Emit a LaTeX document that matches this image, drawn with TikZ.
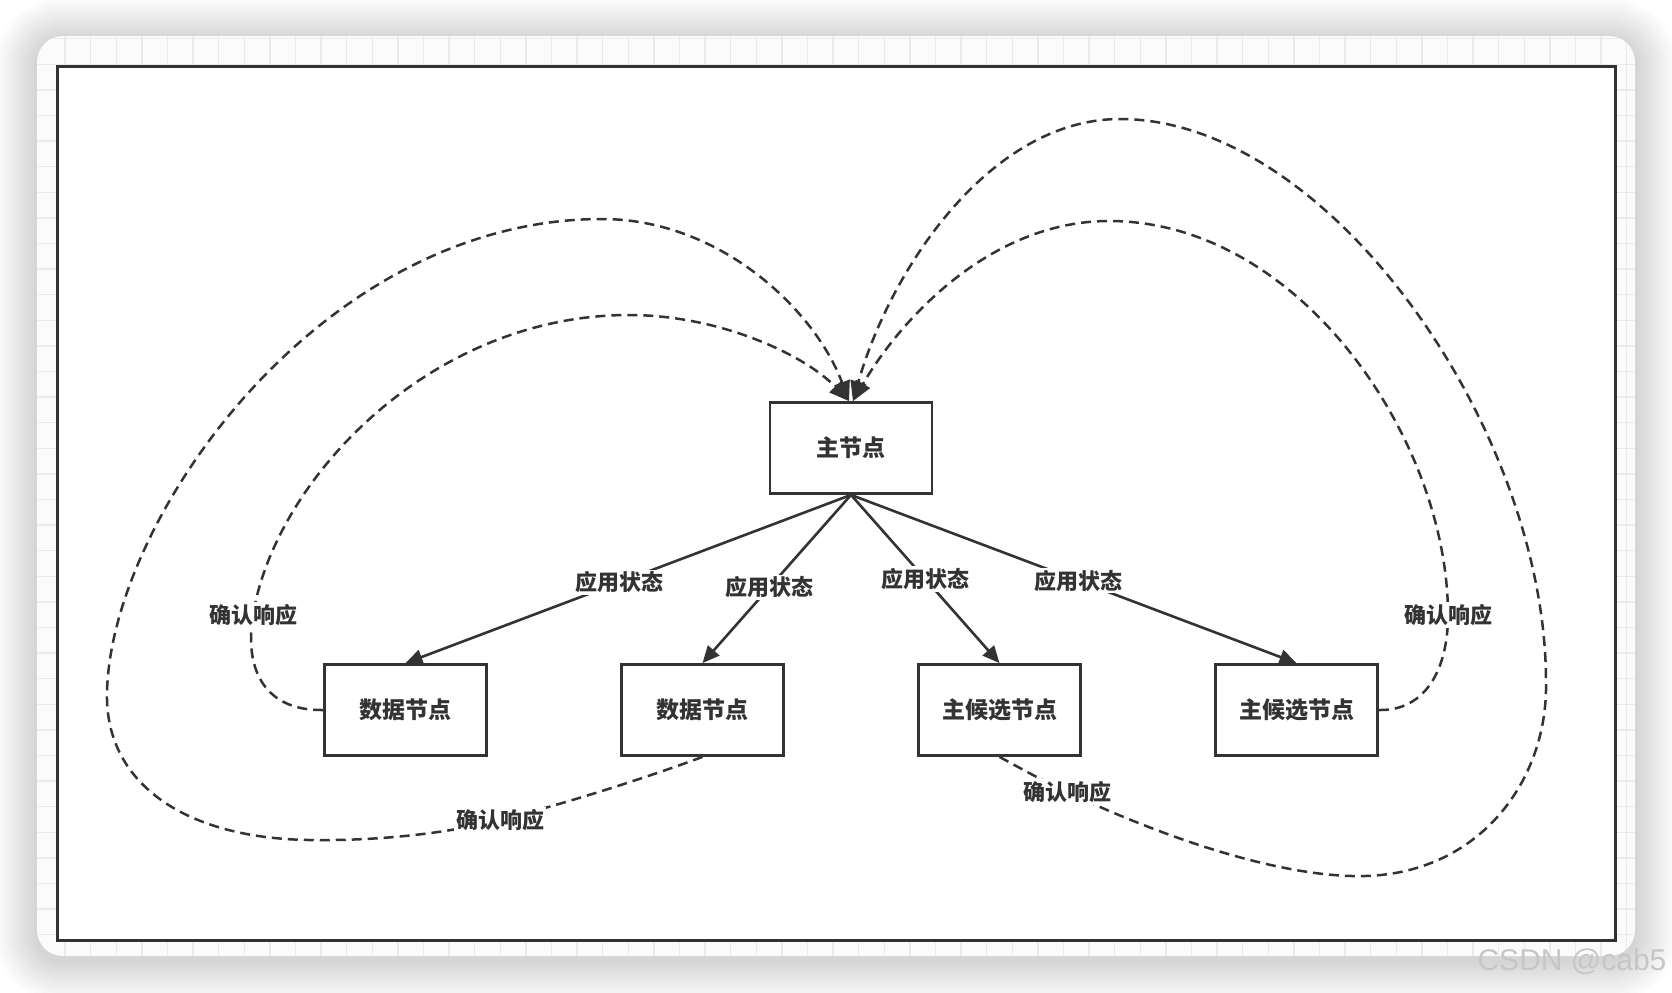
\documentclass[tikz,border=0pt]{standalone}
\usepackage{fontspec}
\setmainfont{Noto Sans CJK SC}
\newfontfamily\markfont{Liberation Sans}
\usetikzlibrary{arrows.meta}
\definecolor{ink}{HTML}{333333}
\definecolor{framec}{HTML}{2E3338}
\definecolor{gridc}{HTML}{EBEBEB}
\definecolor{cardc}{HTML}{FBFBFB}
\tikzset{
  member/.style = {shape=rectangle, draw=ink, line width=1.4pt,
                   fill=white, text=ink, align=center, inner sep=0pt,
                   minimum width=81pt, minimum height=45.5pt,
                   font=\bfseries\fontsize{11.5}{13}\selectfont},
  master/.style = {member},
  lbl/.style    = {fill=white, text=ink, inner sep=1pt,
                   font=\bfseries\fontsize{11}{12}\selectfont},
  ack/.style    = {draw=ink, line width=1.25pt, dash pattern=on 5pt off 3pt,
                   -{Triangle[length=10pt,width=8pt]}}
}

\begin{document}
\begin{tikzpicture}
  [
  x = 0.5pt, y = -0.5pt,
  grow = down,
  level distance = 131pt,
  sibling distance = 148.5pt,
  edge from parent/.style = {draw=ink, line width=1.3pt,
                             -{Triangle[length=8.5pt,width=7.5pt]}},
  edge from parent path = {(\tikzparentnode.south) -- (\tikzchildnode.north)}
  ]
  \useasboundingbox (0,0) rectangle (1672,992);

  % card with grid
  \fill[white] (0,0) rectangle (1672,992);
  \foreach \i in {1,...,14}
    \fill[black, opacity=0.011, rounded corners=13pt+1.5pt*\i]
      (37-3*\i,40-3*\i) rectangle (1635+3*\i,960+3*\i);
  \fill[cardc, rounded corners=13pt] (37,36) rectangle (1635,956);
  \begin{scope}
    \clip[rounded corners=13pt] (37,36) rectangle (1635,956);
    \foreach \gx in {65,90.6,...,1640}
      \draw[gridc, line width=0.7pt] (\gx,36) -- (\gx,956);
    \foreach \gy in {38.6,64.2,...,960}
      \draw[gridc, line width=0.7pt] (37,\gy) -- (1635,\gy);
  \end{scope}
  \draw[framec, line width=1.5pt, fill=white] (57,66) rectangle (1615,940);

  \node[master] (main) at (851,448) {主节点}
    child{node[member] (d1) {数据节点}
      edge from parent node[lbl, pos=0.52] {应用状态} }
    child{node[member] (d2) {数据节点}
      edge from parent node[lbl, pos=0.55] {应用状态} }
    child{node[member] (c1) {主候选节点}
      edge from parent node[lbl, pos=0.50] {应用状态} }
    child{node[member] (c2) {主候选节点}
      edge from parent node[lbl, pos=0.51] {应用状态} };

  % acknowledgements back to the master
  \draw[ack] (d1.west) .. controls (265,711) and (244,670) .. (253,615)
      node[lbl] (a1) {确认响应}
    .. controls (275,480) and (430,315) .. (629,315)
    .. controls (720,315) and (805,355) .. ([xshift=-1pt]main.north);
  \draw[ack] (d2.south) .. controls (640,780) and (560,805) .. (500,820)
      node[lbl] (a2) {确认响应}
    .. controls (440,835) and (370,841) .. (309,840)
    .. controls (180,838) and (105,780) .. (107,693)
    .. controls (110,520) and (320,219) .. (602,219)
    .. controls (720,219) and (815,310) .. ([xshift=-1pt]main.north);
  \draw[ack] (c1.south) .. controls (1020,768) and (1045,782) .. (1067,792)
      node[lbl] (a3) {确认响应}
    .. controls (1180,845) and (1290,878) .. (1365,876)
    .. controls (1480,873) and (1548,780) .. (1546,682)
    .. controls (1546,430) and (1330,119) .. (1120,119)
    .. controls (990,119) and (890,270) .. ([xshift=1pt]main.north);
  \draw[ack] (c2.east) .. controls (1425,711) and (1448,670) .. (1448,615)
      node[lbl] (a4) {确认响应}
    .. controls (1448,440) and (1300,221) .. (1109,221)
    .. controls (990,221) and (900,320) .. ([xshift=1pt]main.north);

  \node[font=\markfont\fontsize{15}{15}\selectfont, text=gray!45] (mark)
    at (1572,962) {CSDN @cab5};
\end{tikzpicture}
\end{document}
